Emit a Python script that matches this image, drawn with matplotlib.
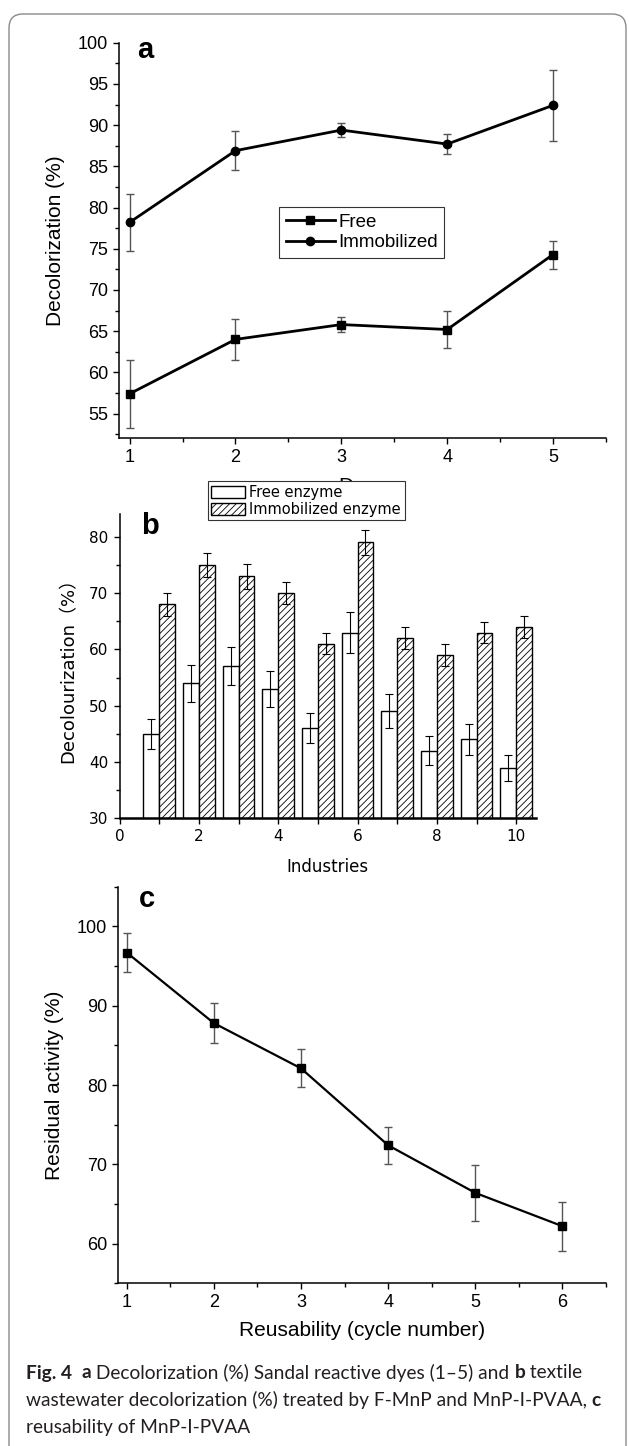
import numpy as np
import matplotlib
matplotlib.use('agg')
import matplotlib.pyplot as plt
from matplotlib.patches import FancyBboxPatch
from matplotlib.transforms import IdentityTransform
from matplotlib.ticker import MultipleLocator

## Data
dyes = [1, 2, 3, 4, 5]
free_dye = [57.4, 64.0, 65.8, 65.2, 74.3]
free_dye_err = [4.1, 2.5, 0.9, 2.3, 1.7]
immob_dye = [78.2, 86.9, 89.4, 87.7, 92.4]
immob_dye_err = [3.5, 2.4, 0.8, 1.2, 4.3]

industries = np.arange(1, 11)
free_ind = [45, 54, 57, 53, 46, 63, 49, 42, 44, 39]
free_ind_err = [2.7, 3.3, 3.4, 3.2, 2.7, 3.7, 3.0, 2.6, 2.7, 2.3]
immob_ind = [68, 75, 73, 70, 61, 79, 62, 59, 63, 64]
immob_ind_err = [2.0, 2.2, 2.2, 2.0, 1.9, 2.3, 1.9, 1.9, 1.9, 1.9]

cycles = [1, 2, 3, 4, 5, 6]
residual = [96.7, 87.8, 82.1, 72.4, 66.4, 62.2]
residual_err = [2.4, 2.5, 2.4, 2.3, 3.5, 3.1]

W, H = 629, 1446
ARIAL = ['Liberation Sans', 'DejaVu Sans']
BFONT = ['DejaVu Sans', 'Noto Sans CJK SC']

plt.rcParams['hatch.linewidth'] = 0.6


def box(l, t, r, b):
    # pixel box (from top-left) -> figure fraction
    return [l / W, 1 - b / H, (r - l) / W, (b - t) / H]


def style_axes(ax, family, size):
    for s in ['top', 'right']:
        ax.spines[s].set_visible(False)
    for s in ['left', 'bottom']:
        ax.spines[s].set_linewidth(1.1)
    ax.tick_params(which='major', direction='out', length=4.5, width=1.0, labelsize=size)
    ax.tick_params(which='minor', direction='out', length=2.8, width=1.0)
    for lab in ax.get_xticklabels() + ax.get_yticklabels():
        lab.set_family(family)


fig = plt.figure(figsize=(W / 100, H / 100), dpi=100)

### Panel a
ax = fig.add_axes(box(119, 42.7, 606, 438.3))
ax.errorbar(dyes, free_dye, yerr=free_dye_err, fmt='none', ecolor='#555555',
            elinewidth=1, capsize=3, capthick=1)
ax.errorbar(dyes, immob_dye, yerr=immob_dye_err, fmt='none', ecolor='#555555',
            elinewidth=1, capsize=3, capthick=1)
l1, = ax.plot(dyes, free_dye, color='black', lw=2, marker='s', ms=5.5, label='Free')
l2, = ax.plot(dyes, immob_dye, color='black', lw=2, marker='o', ms=6, label='Immobilized')
ax.set_xlim(0.9, 5.5)
ax.set_ylim(52, 100)
ax.set_xticks(dyes)
ax.xaxis.set_minor_locator(MultipleLocator(0.5))
ax.yaxis.set_major_locator(MultipleLocator(5))
ax.yaxis.set_minor_locator(MultipleLocator(2.5))
style_axes(ax, ARIAL, 13)
ax.set_ylabel('Decolorization (%)', family=ARIAL, fontsize=15, labelpad=9)
ax.set_xlabel('Dyes', family=ARIAL, fontsize=15, labelpad=7.5)
leg = ax.legend(handles=[l1, l2], loc='upper left', bbox_to_anchor=(0.329, 0.585),
                borderaxespad=0, fancybox=False, edgecolor='#333333', framealpha=1,
                prop={'family': ARIAL, 'size': 13.5}, handlelength=2.6,
                handletextpad=0.2, labelspacing=0.2, borderpad=0.35)
leg.get_frame().set_linewidth(0.8)
fig.text(137 / W, 1 - 50 / H, 'a', family=ARIAL, weight='bold', fontsize=21,
         va='center', ha='left')

### Panel b
ax = fig.add_axes(box(119.6, 514.3, 536, 818.3))
err_b = dict(ecolor='black', elinewidth=0.8, capsize=3, capthick=0.8)
b1 = ax.bar(industries - 0.2, free_ind, 0.4, yerr=free_ind_err, color='white',
            edgecolor='black', linewidth=1, error_kw=err_b, label='Free enzyme')
b2 = ax.bar(industries + 0.2, immob_ind, 0.4, yerr=immob_ind_err, color='white',
            edgecolor='black', linewidth=1, hatch='/////', error_kw=err_b,
            label='Immobilized enzyme')
ax.set_xlim(0, 10.5)
ax.set_ylim(30, 84)
ax.set_xticks(range(0, 11, 2))
ax.xaxis.set_minor_locator(MultipleLocator(1))
ax.yaxis.set_major_locator(MultipleLocator(10))
ax.yaxis.set_minor_locator(MultipleLocator(5))
style_axes(ax, BFONT, 11)
ax.spines['bottom'].set_linewidth(1.8)
ax.tick_params(axis='x', which='minor', length=4.5)
ax.set_ylabel('Decolourization\uff08%\uff09', family=BFONT, fontsize=13, labelpad=8)
ax.set_xlabel('Industries', family=BFONT, fontsize=12, labelpad=10)
leg = ax.legend(handles=[b1, b2], loc='upper left', bbox_to_anchor=(0.2116, 1.1095),
                borderaxespad=0, fancybox=False, edgecolor='#333333', framealpha=1,
                prop={'family': BFONT, 'size': 10.5}, handlelength=2.3,
                handleheight=0.9, handletextpad=0.3, labelspacing=0.15, borderpad=0.25)
leg.get_frame().set_linewidth(0.8)
fig.text(141 / W, 1 - 526 / H, 'b', family=ARIAL, weight='bold', fontsize=21,
         va='center', ha='left')

### Panel c
ax = fig.add_axes(box(118, 886.7, 606, 1283.3))
ax.errorbar(cycles, residual, yerr=residual_err, fmt='none', ecolor='#555555',
            elinewidth=1, capsize=3, capthick=1)
ax.plot(cycles, residual, color='black', lw=1.6, marker='s', ms=5.5)
ax.set_xlim(0.9, 6.5)
ax.set_ylim(55, 105)
ax.set_xticks(cycles)
ax.xaxis.set_minor_locator(MultipleLocator(0.5))
ax.yaxis.set_major_locator(MultipleLocator(10))
ax.yaxis.set_minor_locator(MultipleLocator(5))
style_axes(ax, ARIAL, 13)
ax.set_ylabel('Residual activity (%)', family=ARIAL, fontsize=15, labelpad=9)
ax.set_xlabel('Reusability (cycle number)', family=ARIAL, fontsize=15, labelpad=7)
fig.text(139 / W, 1 - 899 / H, 'c', family=ARIAL, weight='bold', fontsize=21,
         va='center', ha='left')

### Caption
cap = fig.add_axes([0, 0, 1, 1])
cap.axis('off')
cap_font = dict(family=['Lato', 'DejaVu Sans'], fontsize=13.8, color='#231f20')
lines = [
    [('Fig. 4', 'bold'), ('  ', 'normal'), ('a', 'bold'),
     (' Decolorization (%) Sandal reactive dyes (1\u20135) and ', 'normal'),
     ('b', 'bold'), (' textile', 'normal')],
    [('wastewater decolorization (%) treated by F-MnP and MnP-I-PVAA, ', 'normal'),
     ('c', 'bold')],
    [('reusability of MnP-I-PVAA', 'normal')],
]
line_y = [1373, 1400, 1427]
for parts, yc in zip(lines, line_y):
    t = cap.text(26 / W, 1 - yc / H, parts[0][0], weight=parts[0][1],
                 va='center', ha='left', transform=cap.transAxes, **cap_font)
    for s, w in parts[1:]:
        t = cap.annotate(s, xy=(1, 0.5), xycoords=t, va='center', ha='left',
                         weight=w, **cap_font)

frame = FancyBboxPatch((9, -20), 617, H - 14 + 20, boxstyle='round,pad=0,rounding_size=14',
                       transform=IdentityTransform(), facecolor='none',
                       edgecolor='#8a8a8a', linewidth=1.0)
fig.add_artist(frame)

fig.savefig('out.png', dpi=100)
